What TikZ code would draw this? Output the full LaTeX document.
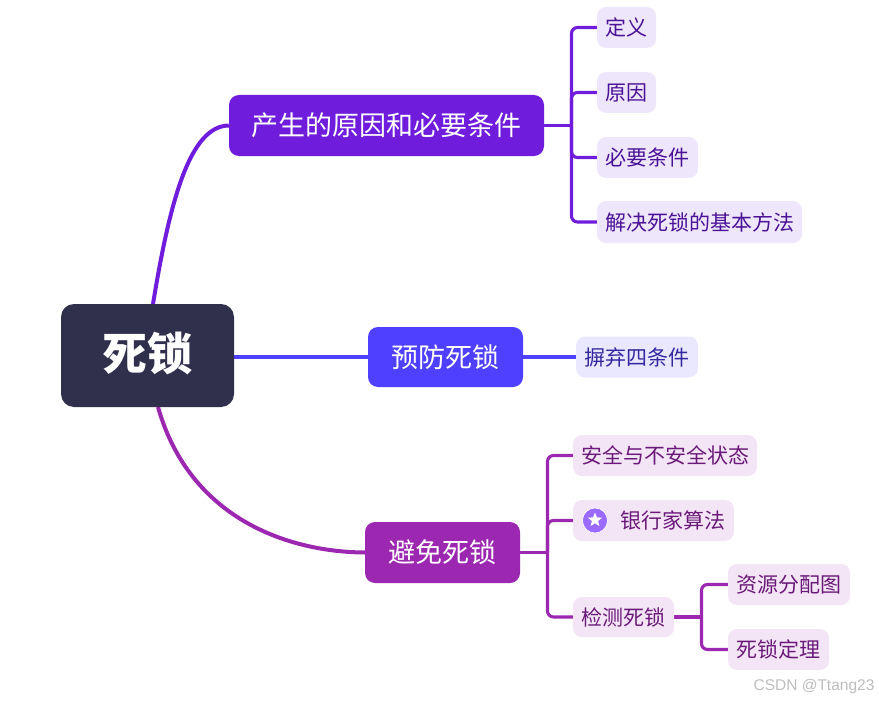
\documentclass[tikz,border=0pt]{standalone}
\usepackage{fontspec}
\setmainfont{Noto Sans CJK SC}
\newfontfamily\wmfont{Liberation Sans}
\usetikzlibrary{shapes.geometric,backgrounds}
\definecolor{rootfill}{HTML}{30304D}
\definecolor{cone}{HTML}{701CDC}
\definecolor{ctwo}{HTML}{4F40FF}
\definecolor{cthree}{HTML}{9C27B0}
\definecolor{lone}{HTML}{EEE6FB}
\definecolor{ltwo}{HTML}{EAE8FF}
\definecolor{lthree}{HTML}{F4E5F6}
\definecolor{tone}{HTML}{4A1296}
\definecolor{ttwo}{HTML}{33299E}
\definecolor{tthree}{HTML}{6A1A78}
\definecolor{icon}{HTML}{9B6BFF}
\tikzset{
  x=1pt,y=-1pt,
  box/.style={inner sep=0pt,align=center},
  rootbox/.style={box,fill=rootfill,text=white,rounded corners=13pt,text height=37.6pt,text depth=7.4pt,font=\fontsize{45}{50}\selectfont\bfseries},
  main/.style={box,text=white,rounded corners=10pt,text height=23.8pt,text depth=3.2pt,font=\fontsize{27}{32}\selectfont},
  sub/.style={box,rounded corners=9pt,text height=18.5pt,text depth=2.5pt,font=\fontsize{21}{25}\selectfont},
  subone/.style={sub,fill=lone,text=tone},
  subtwo/.style={sub,fill=ltwo,text=ttwo},
  subthree/.style={sub,fill=lthree,text=tthree},
  curve/.style={line width=4pt},
  branch/.style={line width=3.1pt,rounded corners=6pt},
}
\begin{document}
\begin{tikzpicture}
\useasboundingbox (0,0) rectangle (879,701);
% root and main topics
\node[rootbox,minimum width=173pt,minimum height=103pt] (root) at (147.5,355.5) {死锁};
\node[main,fill=cone,minimum width=315pt,minimum height=61pt] (m1) at (386.5,125.5) {产生的原因和必要条件};
\node[main,fill=ctwo,minimum width=155pt,minimum height=60pt] (m2) at (445.5,357) {预防死锁};
\node[main,fill=cthree,minimum width=155pt,minimum height=61pt] (m3) at (442.5,552.5) {避免死锁};
% first branch
\node[subone,minimum width=59pt,minimum height=41pt] (a1) at (626.5,27.5) {定义};
\node[subone,minimum width=59pt,minimum height=41pt] (a2) at (626.5,92.5) {原因};
\node[subone,minimum width=101pt,minimum height=41pt] (a3) at (647.5,157.5) {必要条件};
\node[subone,minimum width=205pt,minimum height=42pt] (a4) at (699.5,222) {解决死锁的基本方法};
% second branch
\node[subtwo,minimum width=122pt,minimum height=41pt] (b1) at (637,357) {摒弃四条件};
% third branch
\node[subthree,minimum width=184pt,minimum height=41pt] (c1) at (665,455.5) {安全与不安全状态};
\node[subthree,minimum width=161pt,minimum height=41pt] (c2) at (653.5,520.5) {};
\node[subthree,fill=none] (c2t) at (673,520.5) {银行家算法};
\node[circle,fill=icon,draw=white,line width=0.6pt,minimum size=25pt,inner sep=0pt] (ic) at (595,520.5) {};
\node[star,star points=5,star point ratio=2.3,fill=white,minimum size=15pt,inner sep=0pt] (st) at (595,520) {};
\node[subthree,minimum width=101pt,minimum height=40pt] (c3) at (623.5,617) {检测死锁};
\node[subthree,minimum width=122pt,minimum height=41pt] (d1) at (789,584.5) {资源分配图};
\node[subthree,minimum width=101pt,minimum height=41pt] (d2) at (778.5,649.5) {死锁定理};
% watermark
\node[inner sep=0pt,text=black!26,font=\wmfont\fontsize{15.5}{18}\selectfont] (wm) at (814,686) {CSDN @Ttang23};
% junction points and curve ends
\coordinate (ja) at (571.5,125.5);
\coordinate (jc) at (547.5,552.5);
\coordinate (jd) at (701.5,617);
\coordinate (rt) at (153,304);
\coordinate (rb) at (158,407);
\coordinate (re) at (234,357);
\begin{scope}[on background layer]
\draw[curve,cone] (rt) .. controls (170,200) and (190,126) .. (m1.west);
\draw[curve,ctwo] (re) -- (m2.west);
\draw[curve,cthree] (rb) .. controls (190,520) and (290,552) .. (m3.west);
\draw[branch,cone] (m1.east) -- (ja);
\draw[branch,cone] (a1.west) -| (ja);
\draw[branch,cone] (a2.west) -| (ja);
\draw[branch,cone] (a3.west) -| (ja);
\draw[branch,cone] (a4.west) -| (ja);
\draw[branch,ctwo] (m2.east) -- (b1.west);
\draw[branch,cthree] (m3.east) -- (jc);
\draw[branch,cthree] (c1.west) -| (jc);
\draw[branch,cthree] (c2.west) -| (jc);
\draw[branch,cthree] (c3.west) -| (jc);
\draw[branch,cthree] (c3.east) -- (jd);
\draw[branch,cthree] (d1.west) -| (jd);
\draw[branch,cthree] (d2.west) -| (jd);
\end{scope}
\end{tikzpicture}
\end{document}
